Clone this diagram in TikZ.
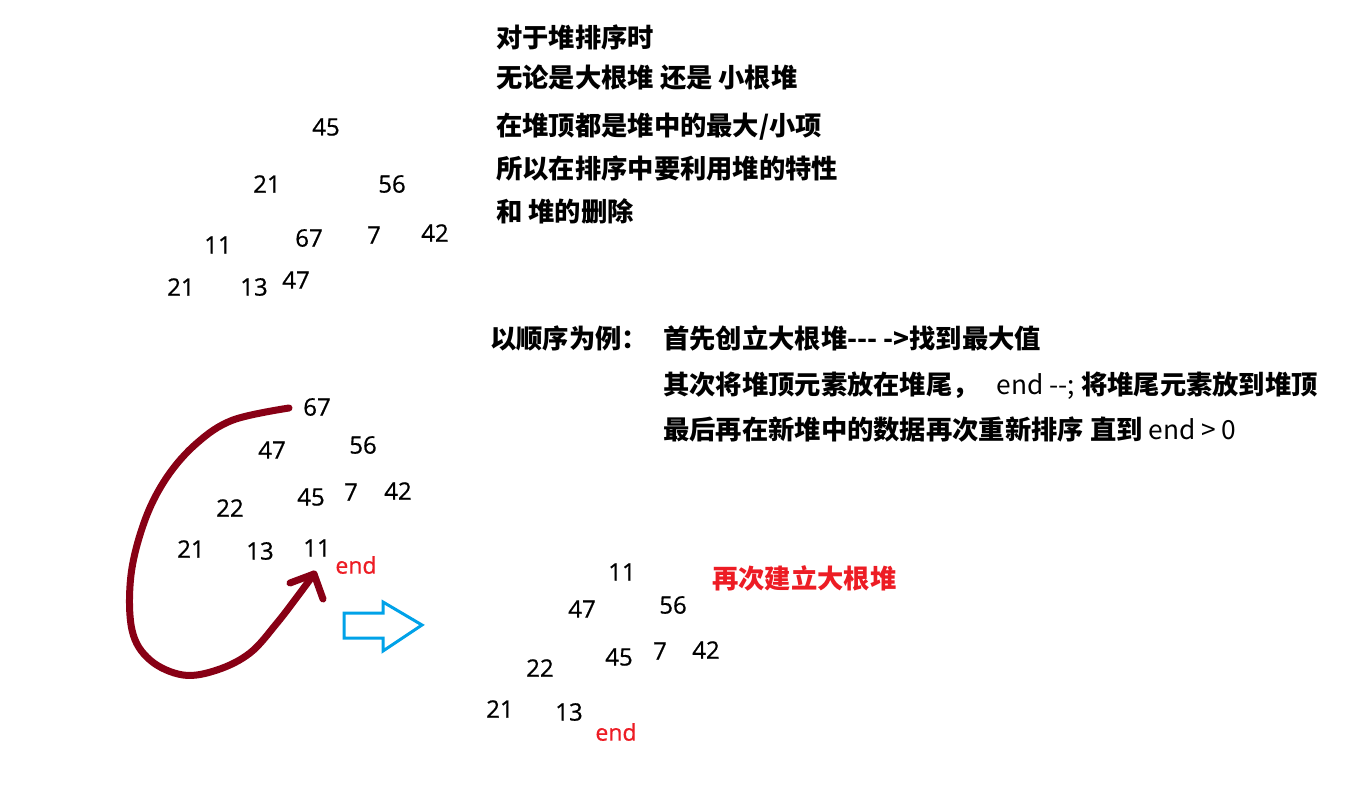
\documentclass[tikz,border=0pt]{standalone}
\usepackage{fontspec}
\usepackage{xcolor}
\usepackage{tikz}
\usetikzlibrary{arrows.meta}
\setmainfont{Noto Sans CJK SC}
\newfontfamily\numfont[BoldFont=Open Sans, BoldFeatures={FakeBold=0.7}]{Open Sans}
\definecolor{paintred}{HTML}{ED1C24}
\definecolor{paintdark}{HTML}{880015}
\definecolor{paintblue}{HTML}{00A2E8}

\begin{document}
\begin{tikzpicture}[x=1pt, y=-1pt,
    num/.style={inner sep=0pt, font=\numfont\bfseries\fontsize{24}{24}\selectfont},
    endtag/.style={inner sep=0pt, text=paintred, font=\numfont\bfseries\fontsize{23}{23}\selectfont},
    note/.style={anchor=west, inner sep=0pt, font=\fontsize{26.3}{27}\selectfont\bfseries}]
			% Canvas
			\useasboundingbox[fill=white] (0,0) rectangle (1361,795);
			
			% Explanation text
			\node[note] (l1) at (496,37) {对于堆排序时};
			\node[note] (l2) at (496,78) {无论是大根堆 还是 小根堆};
			\node[note] (l3) at (496,127) {在堆顶都是堆中的最大/小项};
			\node[note] (l4) at (496,168) {所以在排序中要利用堆的特性};
			\node[note] (l5) at (496,211) {和 堆的删除};
			
			% Steps
			\node[note] (s0) at (490,338) {以顺序为例：};
			\node[note] (s1) at (663,338) {首先创立大根堆{-}{-}{-} {-}>找到最大值};
			\node[note] (s2) at (663,386) {其次将堆顶元素放在堆尾，\ \ \ \mdseries end {-}{-}; \bfseries 将堆尾元素放到堆顶};
			\node[note] (s3) at (663,430) {最后再在新堆中的数据再次重新排序 直到 \mdseries end > 0};
			
			% First heap
			\node[num] (a1) at (326,127) {45};
			\node[num] (a2) at (267,184) {21};
			\node[num] (a3) at (392,184) {56};
			\node[num] (a4) at (218,245) {11};
			\node[num] (a5) at (309,238) {67};
			\node[num] (a6) at (374,235) {7};
			\node[num] (a7) at (435,233) {42};
			\node[num] (a8) at (181,287) {21};
			\node[num] (a9) at (254,287) {13};
			\node[num] (a10) at (296,280) {47};
			
			% Big root heap
			\node[num] (b1) at (317,407) {67};
			\node[num] (b2) at (272,450) {47};
			\node[num] (b3) at (363,445) {56};
			\node[num] (b4) at (230,508) {22};
			\node[num] (b5) at (311,497) {45};
			\node[num] (b6) at (351,492) {7};
			\node[num] (b7) at (398,491) {42};
			\node[num] (b8) at (191,549) {21};
			\node[num] (b9) at (260,551) {13};
			\node[num] (b10) at (317,548) {11};
			\node[endtag] (bend) at (356,565) {end};
			
			% Swap top and tail
			\coordinate (from) at (289,408);
			\coordinate (to) at (314,574);
			\draw[paintdark, line width=7pt, line cap=round, line join=round]
				plot[smooth, tension=0.6] coordinates {(from) (233,420) (197,443) (167,477) (145,520) (131,575) (132,630) (150,660) (183,675) (217,670) (250,653) (277,623) (300,593) (to)};
			\draw[paintdark, line width=7pt, line cap=round, line join=round]
				(290,583) -- (to) -- (323,599);
			
			% Next step
			\draw[paintblue, line width=3pt, line join=miter]
				(344,613) -- (383,613) -- (383,602) -- (422,625) -- (383,651) -- (383,638) -- (344,638) -- cycle;
			
			% Heap after swap
			\node[num] (c1) at (622,572) {11};
			\node[num] (c2) at (582,609) {47};
			\node[num] (c3) at (673,605) {56};
			\node[num] (c4) at (540,668) {22};
			\node[num] (c5) at (619,657) {45};
			\node[num] (c6) at (660,651) {7};
			\node[num] (c7) at (706,650) {42};
			\node[num] (c8) at (500,709) {21};
			\node[num] (c9) at (569,712) {13};
			\node[endtag] (cend) at (616,732) {end};
			\node[note, text=paintred] (again) at (712,578) {再次建立大根堆};
			
		\end{tikzpicture}
\end{document}
